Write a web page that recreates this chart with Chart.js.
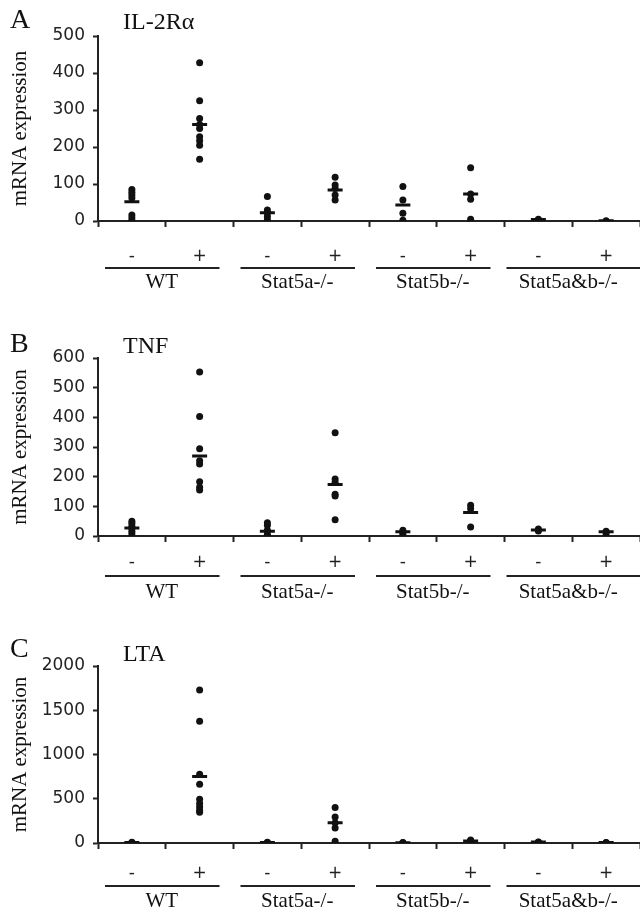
<!DOCTYPE html>
<html>
<head>
<meta charset="utf-8">
<script src="https://cdn.jsdelivr.net/npm/chart.js@4.4.1/dist/chart.umd.min.js"></script>
<style>
  html, body { margin: 0; padding: 0; background: #fff; overflow: hidden; }
  body { width: 640px; height: 913px; position: relative; }
  .panel { position: absolute; left: 0; width: 640px; }
  .letter, .gene { position: absolute; font-family: "Liberation Serif", "Times New Roman", serif; color: #111; line-height: 1; white-space: nowrap; }
  .letter { font-size: 28px; left: 10px; }
  .gene { font-size: 24px; left: 123px; }
</style>
</head>
<body>
<div class="panel" style="top:0px;height:294px"><canvas id="chartA"></canvas></div>
<div class="panel" style="top:300px;height:302px"><canvas id="chartB"></canvas></div>
<div class="panel" style="top:611px;height:301px"><canvas id="chartC"></canvas></div>
<div class="letter" style="top:5px">A</div>
<div class="gene" style="top:9px">IL-2Rα</div>
<div class="letter" style="top:329px">B</div>
<div class="gene" style="top:333px">TNF</div>
<div class="letter" style="top:634px">C</div>
<div class="gene" style="top:641px">LTA</div>
<script>
const conditions = ["WT -", "WT +", "Stat5a -", "Stat5a +", "Stat5b -", "Stat5b +", "Stat5ab -", "Stat5ab +"];
const signs = ["-", "+", "-", "+", "-", "+", "-", "+"];
const groups = ["WT", "Stat5a-/-", "Stat5b-/-", "Stat5a&b-/-"];

// IL-2Ralpha, one list of dots per condition
const il2raValues = [
  [85, 78, 70, 62, 16, 8, 1],
  [428, 325, 277, 261, 250, 228, 217, 205, 167],
  [66, 30, 22, 12, 3],
  [118, 97, 88, 70, 57],
  [93, 57, 21, 2],
  [144, 73, 59, 5],
  [5, 2],
  [1]
];
const il2raMeans = [52, 261, 22, 84, 43, 73, 4, 1];

const tnfValues = [
  [50, 42, 33, 25, 16, 8],
  [553, 403, 294, 254, 243, 183, 164, 155],
  [45, 36, 19, 6, 0],
  [348, 192, 181, 141, 135, 55],
  [19, 11, 5],
  [104, 92, 30],
  [24, 17],
  [16, 8]
];
const tnfMeans = [27, 270, 16, 174, 14, 79, 20, 14];

const ltaValues = [
  [8, 2],
  [1728, 1377, 777, 664, 494, 445, 408, 370, 347],
  [8, 2],
  [400, 294, 230, 170, 19],
  [5, 2],
  [35, 22, 12],
  [12, 8],
  [6, 3]
];
const ltaMeans = [5, 751, 5, 230, 3, 22, 10, 5];

const il2raTicks = [0, 100, 200, 300, 400, 500];
const tnfTicks = [0, 100, 200, 300, 400, 500, 600];
const ltaTicks = [0, 500, 1000, 1500, 2000];

const axisColor = "#222";
const dotColor = "#111";

// lines under each -/+ pair
const groupLines = {
  id: "groupLines",
  afterDraw(chart) {
    const x = chart.scales.x;
    const g = chart.scales.group;
    const ctx = chart.ctx;
    const step = x.getPixelForValue(1) - x.getPixelForValue(0);
    ctx.save();
    ctx.strokeStyle = axisColor;
    ctx.lineWidth = 2;
    groups.forEach(function (name, i) {
      const left = x.getPixelForValue(2 * i) - step / 2;
      const right = x.getPixelForValue(2 * i + 1) + step / 2;
      let x1 = left + 7;
      let x2 = right - 14;
      if (i === groups.length - 1) {
        x1 = left + 2;
        x2 = chart.width;
      }
      ctx.beginPath();
      ctx.moveTo(x1, g.top + 2);
      ctx.lineTo(x2, g.top + 2);
      ctx.stroke();
    });
    ctx.restore();
  },
};

function noSidePadding(s) {
  s.paddingLeft = 0;
  s.paddingRight = 0;
}

function makePanel(id, values, means, ticks, box) {
  const dots = [];
  values.forEach(function (vals, i) {
    vals.forEach(function (v) {
      dots.push({ x: conditions[i], y: v });
    });
  });
  const meanPts = means.map(function (m, i) {
    return { x: conditions[i], y: m };
  });
  const tickFont = { family: "DejaVu Sans", size: 17 };
  return new Chart(document.getElementById(id), {
    type: "scatter",
    data: {
      labels: conditions,
      datasets: [
        {
          data: meanPts,
          pointStyle: "line",
          pointRadius: 7.5,
          pointBorderWidth: 3,
          pointBorderColor: dotColor,
          pointBackgroundColor: dotColor,
        },
        {
          data: dots,
          pointStyle: "circle",
          pointRadius: 3.5,
          pointBorderWidth: 0,
          pointBackgroundColor: dotColor,
          pointBorderColor: dotColor,
        },
      ],
    },
    options: {
      responsive: true,
      maintainAspectRatio: false,
      animation: false,
      events: [],
      layout: { autoPadding: false, padding: { top: box.top, bottom: 0, left: 0, right: 0 } },
      plugins: { legend: { display: false }, tooltip: { enabled: false } },
      scales: {
        x: {
          type: "category",
          labels: conditions,
          offset: true,
          position: "bottom",
          weight: 0,
          grid: { offset: true, drawOnChartArea: false, tickLength: 6, tickWidth: 2, tickColor: axisColor },
          border: { display: true, color: axisColor, width: 2 },
          ticks: {
            autoSkip: false,
            maxRotation: 0,
            padding: box.signPad,
            color: "#222",
            font: tickFont,
            callback: function (v, i) {
              return signs[i];
            },
          },
          afterFit: function (s) {
            s.height = box.xHeight;
            noSidePadding(s);
          },
        },
        group: {
          type: "category",
          labels: groups,
          offset: true,
          position: "bottom",
          weight: 1,
          grid: { display: false, drawTicks: false },
          border: { display: false },
          ticks: {
            autoSkip: false,
            maxRotation: 0,
            padding: box.groupPad,
            labelOffset: -4,
            color: "#111",
            font: { family: "Liberation Serif", size: 21 },
          },
          afterFit: function (s) {
            s.height = 28;
            noSidePadding(s);
          },
        },
        y: {
          min: ticks[0],
          max: ticks[ticks.length - 1],
          afterBuildTicks: function (s) {
            s.ticks = ticks.map(function (v) {
              return { value: v };
            });
          },
          grid: { drawOnChartArea: false, tickLength: 5, tickWidth: 2, tickColor: axisColor },
          border: { display: true, color: axisColor, width: 2 },
          ticks: {
            padding: 8,
            color: "#222",
            font: tickFont,
            callback: function (v) {
              return String(v);
            },
          },
          title: {
            display: true,
            text: "mRNA expression",
            color: "#111",
            font: { family: "Liberation Serif", size: 21 },
            padding: { top: 8, bottom: 0 },
          },
          afterFit: function (s) {
            s.width = 98;
          },
        },
      },
    },
    plugins: [groupLines],
  });
}

makePanel("chartA", il2raValues, il2raMeans, il2raTicks, { top: 36, signPad: 19, xHeight: 45, groupPad: 4 });
makePanel("chartB", tnfValues, tnfMeans, tnfTicks, { top: 58, signPad: 10, xHeight: 38, groupPad: 6 });
makePanel("chartC", ltaValues, ltaMeans, ltaTicks, { top: 55, signPad: 14, xHeight: 41, groupPad: 5 });
</script>
</body>
</html>
